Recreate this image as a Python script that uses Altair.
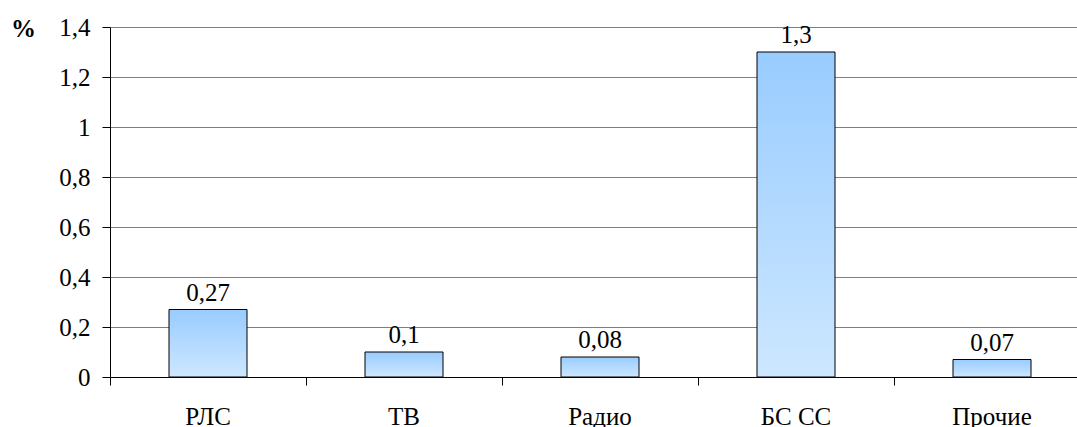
import altair as alt
import pandas as pd

# Share by source type, %
categories = ["РЛС", "ТВ", "Радио", "БС СС", "Прочие"]
values = [0.27, 0.1, 0.08, 1.3, 0.07]
y_ticks = [0, 0.2, 0.4, 0.6, 0.8, 1.0, 1.2, 1.4]

df = pd.DataFrame({"category": categories, "value": values})

FONT = "Liberation Serif"
FS = 25

x_enc = alt.X(
    "category:N",
    sort=categories,
    scale=alt.Scale(range=[0, 980], paddingInner=0, paddingOuter=0),
    axis=alt.Axis(
        title=None,
        labelAngle=0,
        labelFont=FONT,
        labelFontSize=FS,
        labelColor="black",
        labelPadding=19,
        tickSize=8,
        tickColor="black",
        domainColor="black",
        bandPosition=0,
        grid=False,
    ),
)

y_scale = alt.Scale(domain=[0, 1.4], nice=False)

bars = alt.Chart(df).mark_bar(
    size=78,
    stroke="black",
    strokeWidth=1,
    color=alt.LinearGradient(
        gradient="linear",
        stops=[
            alt.GradientStop(color="#99CCFF", offset=0),
            alt.GradientStop(color="#CDE7FF", offset=1),
        ],
        x1=0, x2=0, y1=0, y2=1,
    ),
).encode(
    x=x_enc,
    y=alt.Y(
        "value:Q",
        scale=y_scale,
        axis=alt.Axis(
            values=y_ticks,
            labelExpr="replace(format(datum.value, '~g'), '.', ',')",
            labelFont=FONT,
            labelFontSize=FS,
            labelColor="black",
            labelPadding=12,
            tickSize=8,
            tickColor="black",
            domainColor="black",
            grid=True,
            gridColor="#7f7f7f",
            gridWidth=1,
            title="%",
            titleAngle=0,
            titleFont=FONT,
            titleFontSize=FS,
            titleFontWeight="bold",
            titleColor="black",
            titleAlign="center",
            titleBaseline="middle",
            titleX=-87,
            titleY=1,
        ),
    ),
)

labels = alt.Chart(df).transform_calculate(
    label="replace(format(datum.value, '~g'), '.', ',')"
).mark_text(
    font=FONT,
    fontSize=FS,
    color="black",
    baseline="alphabetic",
    dy=-9,
).encode(
    x=alt.X("category:N", sort=categories),
    y=alt.Y("value:Q", scale=y_scale),
    text="label:N",
)

chart = (
    alt.layer(bars, labels)
    .properties(
        width=967,
        height=350,
        autosize=alt.AutoSizeParams(type="none"),
        padding={"left": 110, "top": 27, "right": 0, "bottom": 50},
        background="white",
    )
    .configure_view(stroke=None)
)

chart.save("out.html", embed_options={"renderer": "svg", "actions": False})
